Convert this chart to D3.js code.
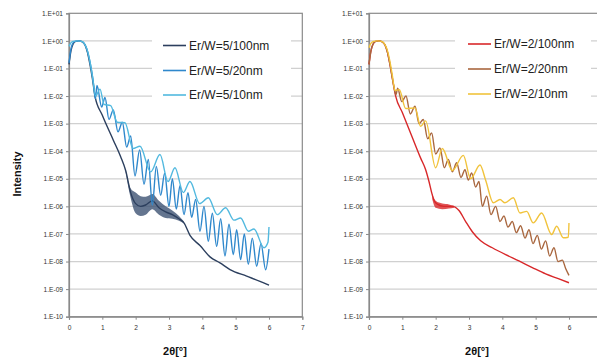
<!DOCTYPE html>
<html>
<head>
<meta charset="utf-8">
<script src="https://cdn.jsdelivr.net/npm/d3@7"></script>
<style>
  body { margin: 0; background: #fff; }
  svg { display: block; font-family: "Liberation Sans", Arial, sans-serif; }
</style>
</head>
<body>
<svg id="chart" width="597" height="360"></svg>
<script>
// values are [2θ in degrees, log10(intensity)]
const xTickValues = [0, 1, 2, 3, 4, 5, 6, 7];
const yExponents = [1, 0, -1, -2, -3, -4, -5, -6, -7, -8, -9, -10];

const leftNames = ["Er/W=5/100nm", "Er/W=5/20nm", "Er/W=5/10nm"];
const rightNames = ["Er/W=2/100nm", "Er/W=2/20nm", "Er/W=2/10nm"];

const er5w100 = [
  [0, -0.85], [0.06, -0.35], [0.12, -0.12], [0.2, -0.02], [0.3, 0], [0.4, -0.04], [0.48, -0.15],
  [0.55, -0.4], [0.62, -0.8], [0.7, -1.35], [0.78, -2.0], [1.0, -2.7], [1.33, -3.6], [1.55, -4.2],
  [1.7, -4.7], [1.85, -5.5], [2.0, -5.9], [2.15, -6.0], [2.3, -5.95], [2.5, -5.8], [2.7, -6.05],
  [2.9, -6.2], [3.1, -6.3], [3.3, -6.45], [3.45, -6.6], [3.63, -7.05], [3.93, -7.42], [4.23, -7.83],
  [4.53, -8.05], [4.83, -8.29], [5.33, -8.53], [5.73, -8.72], [6.0, -8.86]
];
// fuzzy band of fine fringes: [2θ, low, high]
const er5w100Band = [
  [1.7, -4.75, -4.65], [1.85, -5.7, -5.35], [2.0, -6.25, -5.5], [2.15, -6.35, -5.63], [2.3, -6.3, -5.65],
  [2.5, -6.1, -5.55], [2.7, -6.3, -5.8], [2.9, -6.42, -6.0], [3.1, -6.45, -6.15], [3.3, -6.52, -6.35],
  [3.45, -6.62, -6.55]
];
const er5w20 = [
  [0, -0.8], [0.05, -0.35], [0.1, -0.12], [0.18, -0.02], [0.28, 0], [0.38, -0.02], [0.45, -0.08],
  [0.52, -0.25], [0.6, -0.6], [0.68, -1.1], [0.74, -1.6], [0.79, -2.1], [0.84, -1.62], [0.98, -2.4],
  [1.08, -2.05], [1.2, -2.85], [1.33, -2.5], [1.47, -3.3], [1.6, -2.95], [1.73, -3.85], [1.85, -3.45],
  [1.98, -4.9], [2.12, -3.95], [2.25, -5.2], [2.38, -4.3], [2.5, -5.95], [2.62, -4.55], [2.75, -5.6],
  [2.87, -4.8], [3.0, -6.0], [3.1, -5.0], [3.22, -6.1], [3.33, -5.25], [3.45, -6.3], [3.57, -5.5],
  [3.68, -6.4], [3.8, -5.75], [3.93, -6.9], [4.05, -6.0], [4.18, -7.27], [4.3, -6.25], [4.43, -7.45],
  [4.55, -6.45], [4.68, -7.8], [4.8, -6.65], [4.93, -7.75], [5.03, -6.85], [5.15, -7.93], [5.26, -7.0],
  [5.38, -8.1], [5.5, -7.15], [5.63, -8.17], [5.76, -7.35], [5.9, -8.3], [6.0, -7.55]
];
const er5w10 = [
  [0, -0.2], [0.05, -0.08], [0.12, -0.02], [0.25, 0], [0.38, -0.02], [0.46, -0.1], [0.54, -0.3],
  [0.62, -0.7], [0.7, -1.25], [0.8, -2.0], [0.93, -1.75], [1.05, -2.3], [1.25, -2.35], [1.45, -2.95],
  [1.68, -2.97], [1.92, -3.9], [2.13, -3.82], [2.45, -4.75], [2.73, -4.12], [2.97, -5.1], [3.18, -4.6],
  [3.43, -5.5], [3.63, -5.1], [3.92, -5.9], [4.18, -5.69], [4.45, -6.3], [4.7, -6.05], [4.95, -6.5],
  [5.15, -6.42], [5.38, -6.9], [5.55, -6.82], [5.85, -7.5], [5.97, -7.3], [6.0, -6.75]
];

const er2w100 = [
  [0, -0.85], [0.06, -0.35], [0.12, -0.12], [0.2, -0.02], [0.3, 0], [0.4, -0.04], [0.48, -0.15],
  [0.55, -0.4], [0.62, -0.8], [0.7, -1.35], [0.8, -2.0], [1.0, -2.6], [1.3, -3.5], [1.55, -4.25],
  [1.7, -4.67], [1.8, -5.1], [1.88, -5.5], [1.95, -5.78], [2.05, -5.92], [2.25, -6.0], [2.5, -6.0],
  [2.7, -6.15], [2.9, -6.55], [3.1, -6.92], [3.35, -7.25], [3.7, -7.5], [4.1, -7.75], [4.5, -7.98],
  [4.9, -8.22], [5.3, -8.45], [5.7, -8.63], [6.0, -8.77]
];
const er2w100Band = [
  [1.9, -5.75, -5.55], [2.0, -6.05, -5.8], [2.2, -6.1, -5.9], [2.4, -6.08, -5.93], [2.55, -6.05, -5.98]
];
const er2w20 = [
  [0, -0.85], [0.06, -0.35], [0.12, -0.12], [0.2, -0.02], [0.3, 0], [0.4, -0.04], [0.48, -0.15],
  [0.55, -0.4], [0.62, -0.8], [0.7, -1.35], [0.76, -1.75], [0.81, -1.95], [0.86, -1.72], [0.98, -2.2],
  [1.11, -2.0], [1.24, -2.65], [1.38, -2.37], [1.5, -3.0], [1.63, -2.85], [1.76, -3.55], [1.88, -3.34],
  [2.0, -4.1], [2.13, -3.88], [2.26, -4.6], [2.38, -4.3], [2.5, -4.75], [2.63, -4.42], [2.76, -4.95],
  [2.88, -4.67], [2.98, -5.05], [3.08, -4.79], [3.2, -5.3], [3.3, -5.1], [3.4, -6.0], [3.53, -5.63],
  [3.66, -6.3], [3.8, -6.0], [3.93, -6.55], [4.05, -6.35], [4.17, -6.75], [4.3, -6.55], [4.42, -6.95],
  [4.55, -6.7], [4.68, -7.15], [4.8, -6.85], [4.92, -7.35], [5.05, -7.05], [5.17, -7.55], [5.3, -7.25],
  [5.42, -7.8], [5.55, -7.5], [5.67, -8.0], [5.8, -7.95], [5.9, -8.25], [6.0, -8.5]
];
const er2w10 = [
  [0, -0.25], [0.05, -0.1], [0.12, -0.03], [0.25, 0], [0.38, -0.02], [0.46, -0.1], [0.54, -0.3],
  [0.62, -0.7], [0.7, -1.25], [0.78, -1.8], [0.91, -1.77], [1.1, -2.45], [1.38, -2.43], [1.55, -3.1],
  [1.7, -2.9], [2.0, -4.6], [2.2, -3.9], [2.5, -4.7], [2.83, -4.15], [3.05, -5.0], [3.33, -4.5],
  [3.5, -5.05], [3.73, -5.87], [3.93, -5.75], [4.08, -5.87], [4.33, -5.69], [4.53, -6.24], [4.73, -6.18],
  [4.93, -6.6], [5.18, -6.24], [5.48, -7.02], [5.63, -6.72], [5.83, -7.14], [5.98, -7.12], [6.0, -6.6]
];

const leftColors = ["#2c3f5e", "#2f88cc", "#52b9df"];
const rightColors = ["#d8282a", "#a9673f", "#f1c33c"];

const svg = d3.select("#chart");
const width = 597;
const plotTop = 13.3, plotBottom = 316.7, unit = 33.33;

function drawPanel(x0, series, band, names, colors, legend) {
  const x = d3.scaleLinear().domain([0, 7]).range([x0, x0 + 7 * unit]);
  const y = d3.scaleLog().domain([1e-10, 10]).range([plotBottom, plotTop]);
  const g = svg.append("g");

  // gridlines
  g.selectAll("line.grid").data(yExponents.slice(1, -1)).enter().append("line")
    .attr("x1", x(0)).attr("x2", x(7))
    .attr("y1", d => y(Math.pow(10, d))).attr("y2", d => y(Math.pow(10, d)))
    .attr("stroke", "#d0d0d0").attr("stroke-width", 1.2);

  // frame
  g.append("rect").attr("x", x(0)).attr("y", plotTop)
    .attr("width", x(7) - x(0)).attr("height", plotBottom - plotTop)
    .attr("fill", "none").attr("stroke", "#8a8a8a").attr("stroke-width", 1.2);

  const yAxis = d3.axisLeft(y)
    .tickValues(yExponents.map(e => Math.pow(10, e)))
    .tickSize(3).tickPadding(3)
    .tickFormat(d => {
      const e = Math.round(Math.log10(d));
      return "1.E" + (e >= 0 ? "+" : "-") + String(Math.abs(e)).padStart(2, "0");
    });
  const ya = g.append("g").attr("transform", `translate(${x(0)},0)`).call(yAxis);
  // ticks past the page edge are left out
  const xAxis = d3.axisBottom(x).tickValues(xTickValues.filter(v => x(v) < width - 3))
    .tickSize(3).tickPadding(6).tickFormat(d3.format("d"));
  const xa = g.append("g").attr("transform", `translate(0,${plotBottom})`).call(xAxis);
  [ya, xa].forEach(a => {
    a.select(".domain").attr("stroke", "#8a8a8a").attr("stroke-width", 1.2);
    a.selectAll(".tick line").attr("stroke", "#8a8a8a");
    a.selectAll("text").attr("font-size", 6.6).attr("fill", "#333")
      .attr("font-family", "Liberation Sans, Arial, sans-serif");
  });

  // legend box hides gridlines
  g.append("rect").attr("x", legend.bx).attr("y", 28).attr("width", legend.bw).attr("height", 80).attr("fill", "#fff");

  const line = d3.line().curve(d3.curveMonotoneX)
    .x(d => x(d[0])).y(d => y(Math.pow(10, d[1])));

  if (band) {
    const area = d3.area().curve(d3.curveMonotoneX)
      .x(d => x(d[0])).y0(d => y(Math.pow(10, d[1]))).y1(d => y(Math.pow(10, d[2])));
    g.append("path").datum(band.data).attr("d", area).attr("fill", band.color).attr("opacity", 0.8);
  }

  series.forEach((s, i) => {
    g.append("path").datum(s).attr("d", line)
      .attr("fill", "none").attr("stroke", colors[i]).attr("stroke-width", 1.4)
      .attr("stroke-linejoin", "round");
  });

  names.forEach((n, i) => {
    const ly = legend.y[i];
    g.append("line").attr("x1", legend.lx).attr("x2", legend.lx + 23)
      .attr("y1", ly).attr("y2", ly).attr("stroke", colors[i]).attr("stroke-width", 1.6);
    g.append("text").attr("x", legend.lx + 26).attr("y", ly + 4.2)
      .attr("font-size", 12).attr("fill", "#222").text(n);
  });

  g.append("text").attr("x", legend.tx).attr("y", 355)
    .attr("text-anchor", "middle").attr("font-size", 11).attr("font-weight", "bold")
    .attr("fill", "#111").text("2θ[°]");
}

drawPanel(69, [er5w100, er5w20, er5w10], { data: er5w100Band, color: "#3d5273" }, leftNames, leftColors,
  { bx: 152, bw: 139, lx: 163, y: [45.5, 70.5, 95], tx: 175 });
drawPanel(369, [er2w100, er2w20, er2w10], { data: er2w100Band, color: "#d8282a" }, rightNames, rightColors,
  { bx: 455, bw: 136, lx: 468, y: [44, 69, 94], tx: 477 });

svg.append("text").attr("transform", "translate(21,174) rotate(-90)")
  .attr("text-anchor", "middle").attr("font-size", 11).attr("font-weight", "bold")
  .attr("fill", "#111").text("Intensity");
</script>
</body>
</html>
